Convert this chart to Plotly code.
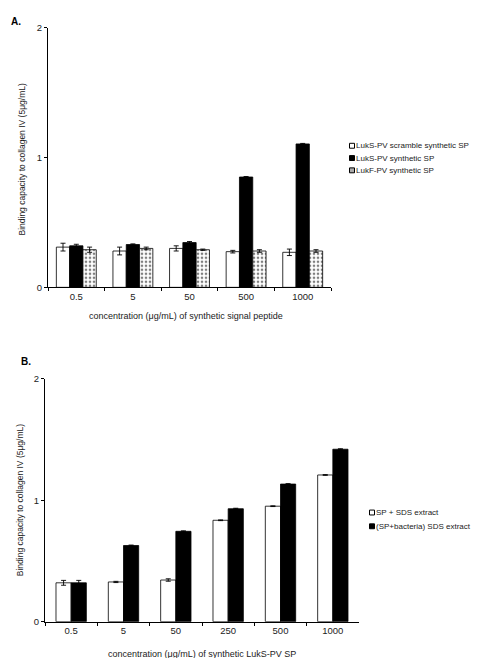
import plotly.graph_objects as go

W, H = 481, 658
def px(x): return x / W
def py(y): return 1 - y / H

# ---------- Data panel A ----------
cats_a = ["0.5", "5", "50", "500", "1000"]
names_a = ["LukS-PV scramble synthetic SP", "LukS-PV synthetic SP", "LukF-PV synthetic SP"]
scramble = [0.31, 0.28, 0.30, 0.275, 0.27]
scramble_err = [0.03, 0.03, 0.02, 0.01, 0.025]
synth = [0.32, 0.33, 0.345, 0.85, 1.105]
synth_err = [0.012, 0.005, 0.008, 0.004, 0.004]
lukf = [0.29, 0.30, 0.29, 0.28, 0.28]
lukf_err = [0.02, 0.01, 0.005, 0.01, 0.01]

# ---------- Data panel B ----------
cats_b = ["0.5", "5", "50", "250", "500", "1000"]
names_b = ["SP + SDS extract", "(SP+bacteria) SDS extract"]
sp_sds = [0.32, 0.327, 0.343, 0.835, 0.951, 1.208]
sp_sds_err = [0.02, 0.005, 0.01, 0.003, 0.003, 0.003]
sp_bac = [0.32, 0.627, 0.744, 0.93, 1.133, 1.42]
sp_bac_err = [0.02, 0.004, 0.004, 0.004, 0.004, 0.004]

FONT = "Arial"
fig = go.Figure()

def err(vals):
    return dict(type="data", array=vals, visible=True, color="black", thickness=0.9, width=2.5)

series_a = [(scramble, scramble_err, "white", ""), (synth, synth_err, "black", ""), (lukf, lukf_err, "white", ".")]
wa = 0.235
offs_a = [-1.5 * wa, -0.5 * wa, 0.5 * wa]
for (vals, e, col, pat), name, off in zip(series_a, names_a, offs_a):
    fig.add_trace(go.Bar(
        x=cats_a, y=vals, name=name, xaxis="x", yaxis="y",
        width=wa, offset=off,
        marker=dict(color=col, line=dict(color="black", width=0.8),
                    pattern=dict(shape=pat, fgcolor="black", bgcolor="white", size=4, solidity=0.35) if pat else None),
        error_y=err(e), showlegend=False))

series_b = [(sp_sds, sp_sds_err, "white"), (sp_bac, sp_bac_err, "black")]
wb = 0.29
offs_b = [-wb, 0]
for (vals, e, col), name, off in zip(series_b, names_b, offs_b):
    fig.add_trace(go.Bar(
        x=cats_b, y=vals, name=name, xaxis="x2", yaxis="y2",
        width=wb, offset=off,
        marker=dict(color=col, line=dict(color="black", width=0.8)),
        error_y=err(e), showlegend=False))

axis_common = dict(showline=True, linecolor="black", linewidth=1, ticks="outside",
                   ticklen=3, tickcolor="black", tickwidth=1, showgrid=False, zeroline=False,
                   tickfont=dict(family=FONT, size=9.5, color="#222"))

fig.update_layout(
    width=W, height=H, margin=dict(l=0, r=0, t=0, b=0),
    paper_bgcolor="white", plot_bgcolor="white",
    barmode="overlay", showlegend=False,
    xaxis=dict(domain=[px(40), px(323)], anchor="y", type="category", tickson="boundaries", **axis_common),
    yaxis=dict(domain=[py(278), py(14)], anchor="x", range=[0, 2], tickvals=[0, 1, 2], **axis_common),
    xaxis2=dict(domain=[px(37), px(351)], anchor="y2", type="category", tickson="boundaries", **axis_common),
    yaxis2=dict(domain=[py(618), py(371)], anchor="x2", range=[0, 2], tickvals=[0, 1, 2], **axis_common),
)

ann = []
shapes = []
tf = dict(family=FONT, size=9, color="#222")
yf = dict(family=FONT, size=8.5, color="#222")
lf = dict(family=FONT, size=8, color="#222")
# panel labels
ann.append(dict(text="<b>A.</b>", x=px(1), y=py(8), xref="paper", yref="paper", xanchor="left", yanchor="middle",
                showarrow=False, font=dict(family=FONT, size=10, color="black")))
ann.append(dict(text="<b>B.</b>", x=px(11), y=py(353), xref="paper", yref="paper", xanchor="left", yanchor="middle",
                showarrow=False, font=dict(family=FONT, size=10, color="black")))
# axis titles
ytitle = "Binding capacity to collagen IV (5μg/mL)"
ann.append(dict(text=ytitle, x=px(14), y=py(148), xref="paper", yref="paper", textangle=-90,
                xanchor="center", yanchor="middle", showarrow=False, font=yf))
ann.append(dict(text=ytitle, x=px(11.5), y=py(495), xref="paper", yref="paper", textangle=-90,
                xanchor="center", yanchor="middle", showarrow=False, font=yf))
ann.append(dict(text="concentration (μg/mL) of synthetic signal peptide", x=px(178), y=py(307),
                xref="paper", yref="paper", xanchor="center", yanchor="middle", showarrow=False, font=tf))
ann.append(dict(text="concentration (μg/mL) of synthetic LukS-PV SP", x=px(194), y=py(651),
                xref="paper", yref="paper", xanchor="center", yanchor="middle", showarrow=False, font=tf))

# custom legends
def legend(names, fills, x0, ys):
    for name, fill, yy in zip(names, fills, ys):
        shapes.append(dict(type="rect", xref="paper", yref="paper",
                           x0=px(x0 - 2.5), x1=px(x0 + 2.5), y0=py(yy + 2.5), y1=py(yy - 2.5),
                           fillcolor=fill, line=dict(color="black", width=1)))
        ann.append(dict(text=name, x=px(x0 + 2), y=py(yy), xref="paper", yref="paper",
                        xanchor="left", yanchor="middle", showarrow=False, font=lf))

legend(names_a, ["white", "black", "#aaaaaa"], 344, [134, 146.5, 159])
legend(names_b, ["white", "black"], 364, [507, 521])

fig.update_layout(annotations=ann, shapes=shapes)
fig.write_html("out.html")
